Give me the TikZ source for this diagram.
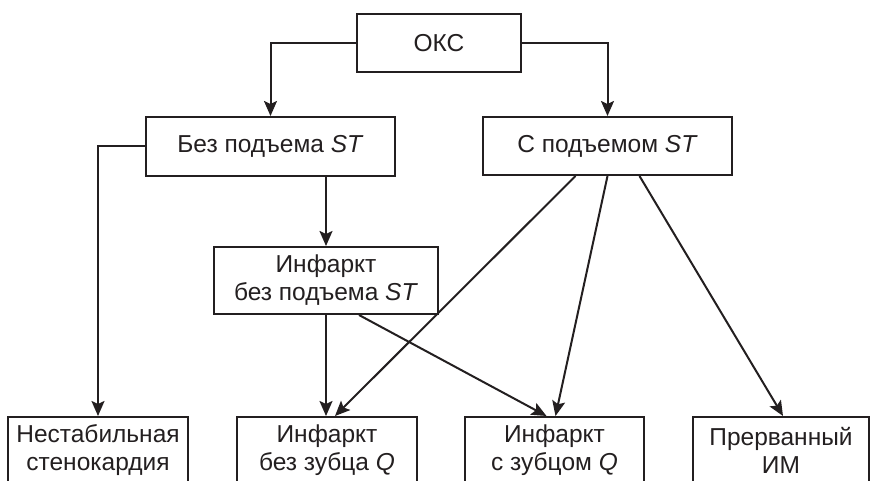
\documentclass[tikz,border=0pt]{standalone}
\usepackage{fontspec}
\setmainfont{Liberation Sans}
\usetikzlibrary{arrows.meta}
\definecolor{ink}{HTML}{231F20}
\begin{document}
\begin{tikzpicture}[x=1pt,y=-1pt,
  box/.style={draw=ink,line width=2pt,rectangle,inner sep=0pt,align=center,
    text=ink,font=\fontsize{24.5}{28}\selectfont},
  arr/.style={draw=ink,line width=2pt,-{Stealth[length=15pt,width=13pt,inset=3pt]}}]
\useasboundingbox (0,0) rectangle (870,481);
\clip (0,0) rectangle (870,481);
\node[box,minimum width=164pt,minimum height=58pt] (oks) at (439,43) {ОКС};
\node[box,minimum width=249pt,minimum height=59pt] (bez) at (270.5,146.5) {Без подъема \textit{ST}};
\node[box,minimum width=249pt,minimum height=58pt] (s) at (607.5,146) {С подъемом \textit{ST}};
\node[box,minimum width=224pt,minimum height=67pt] (ibp) at (326,280.5) {Инфаркт\\без подъема \textit{ST}};
\node[box,minimum width=180pt,minimum height=66pt] (nest) at (98,450) {Нестабильная\\стенокардия};
\node[box,minimum width=180pt,minimum height=66pt] (bz) at (327,450) {Инфаркт\\без зубца \textit{Q}};
\node[box,minimum width=179pt,minimum height=66pt] (sz) at (554.5,450) {Инфаркт\\с зубцом \textit{Q}};
\node[box,minimum width=176pt,minimum height=66pt] (pr) at (781,450) {Прерванный\\ИМ};
\draw[arr] (oks.west) -| (bez.north);
\draw[arr] (oks.east) -| (s.north);
\draw[arr] (bez.west) -| (nest.north);
\draw[arr] (ibp.north |- bez.south) -- (ibp.north);
\draw[arr] (ibp.south) -- (ibp.south |- bz.north);
\draw[arr] ([xshift=33pt]ibp.south) -- ([xshift=-8pt]sz.north);
\draw[arr] ([xshift=-32pt]s.south) -- ([xshift=8pt]bz.north);
\draw[arr] (s.south) -- ([xshift=1pt]sz.north);
\draw[arr] ([xshift=32pt]s.south) -- ([xshift=2pt]pr.north);
\end{tikzpicture}
\end{document}
